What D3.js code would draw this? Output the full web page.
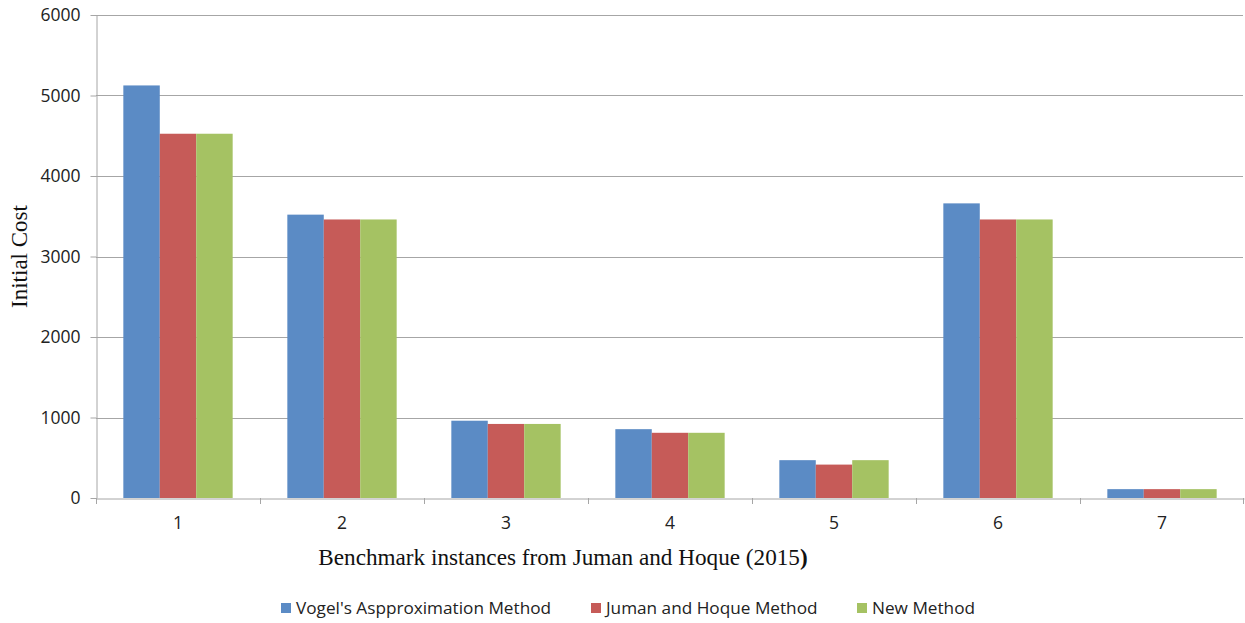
<!DOCTYPE html>
<html>
<head>
<meta charset="utf-8">
<script src="https://cdn.jsdelivr.net/npm/d3@7"></script>
<style>
  html, body { margin: 0; padding: 0; background: #fff; }
  svg { display: block; }
</style>
</head>
<body>
<svg id="chart" width="1245" height="623"></svg>
<script>
// Benchmark instances and initial costs per method
const categories = ["1", "2", "3", "4", "5", "6", "7"];
const seriesNames = ["Vogel's Aspproximation Method", "Juman and Hoque Method", "New Method"];
const vamCost = [5125, 3520, 960, 855, 470, 3660, 110];
const jhmCost = [4525, 3460, 920, 810, 415, 3460, 110];
const newCost = [4525, 3460, 920, 810, 470, 3460, 110];
const yTicks = [0, 1000, 2000, 3000, 4000, 5000, 6000];
const colors = ["#5B8BC5", "#C65B58", "#A5C263"];

const seriesValues = [vamCost, jhmCost, newCost];

const svg = d3.select("#chart");
const plotL = 96, plotR = 1244, plotT = 15, plotB = 498;
const gridColor = "#A6A6A6";
const labelFont = "'Open Sans', sans-serif";

const x = d3.scaleBand().domain(categories).range([plotL, plotR]).padding(0);
const xi = d3.scaleBand().domain(d3.range(seriesNames.length))
  .range([0, x.bandwidth()]).paddingInner(0).paddingOuter(0.75);
const y = d3.scaleLinear().domain([0, 6000]).range([plotB, plotT]);

// horizontal gridlines
svg.append("g")
  .selectAll("line")
  .data(yTicks.filter(d => d > 0))
  .join("line")
  .attr("x1", plotL).attr("x2", plotR - 1)
  .attr("y1", d => Math.round(y(d)) + 0.5)
  .attr("y2", d => Math.round(y(d)) + 0.5)
  .attr("stroke", gridColor).attr("stroke-width", 1);

// bars
const rows = categories.map((c, i) => ({ cat: c, vals: seriesValues.map(s => s[i]) }));
svg.append("g")
  .selectAll("g")
  .data(rows)
  .join("g")
  .attr("transform", d => `translate(${x(d.cat)},0)`)
  .selectAll("rect")
  .data(d => d.vals.map((v, k) => ({ k, v })))
  .join("rect")
  .attr("x", d => xi(d.k))
  .attr("width", xi.bandwidth())
  .attr("y", d => y(d.v))
  .attr("height", d => y(0) - y(d.v))
  .attr("fill", d => colors[d.k]);

// y axis
const yAxis = svg.append("g")
  .attr("transform", `translate(${plotL + 0.5},0)`)
  .call(d3.axisLeft(y).tickValues(yTicks).tickFormat(d3.format("d"))
    .tickSize(6).tickPadding(10).tickSizeOuter(0));
yAxis.select(".domain").attr("stroke", gridColor);
yAxis.selectAll(".tick line").attr("stroke", gridColor);
yAxis.selectAll(".tick text")
  .attr("fill", "#222")
  .style("font-family", labelFont)
  .style("font-size", "17.5px");

// x axis: baseline and category labels
const xAxis = svg.append("g")
  .attr("transform", `translate(0,${plotB + 0.5})`)
  .call(d3.axisBottom(x).tickSize(0).tickPadding(18).tickSizeOuter(0));
xAxis.select(".domain").attr("stroke", gridColor);
xAxis.selectAll(".tick text")
  .attr("fill", "#222")
  .style("font-family", labelFont)
  .style("font-size", "17.5px");

// category boundary tick marks
const bounds = categories.map(c => x(c)).concat([x(categories[categories.length - 1]) + x.bandwidth()]);
svg.append("g")
  .selectAll("line")
  .data(bounds)
  .join("line")
  .attr("x1", d => Math.min(Math.round(d), plotR - 1) + 0.5)
  .attr("x2", d => Math.min(Math.round(d), plotR - 1) + 0.5)
  .attr("y1", plotB).attr("y2", plotB + 6)
  .attr("stroke", gridColor);

// axis titles
svg.append("text")
  .attr("transform", `translate(27,${(plotT + plotB) / 2}) rotate(-90)`)
  .attr("text-anchor", "middle")
  .style("font-family", "'Liberation Serif', serif")
  .style("font-size", "23px")
  .attr("fill", "#111")
  .text("Initial Cost");

const xTitle = svg.append("text")
  .attr("x", 563).attr("y", 565)
  .attr("text-anchor", "middle")
  .style("font-family", "'Liberation Serif', serif")
  .style("font-size", "23.2px")
  .attr("fill", "#111");
xTitle.append("tspan").text("Benchmark instances from Juman and Hoque (2015");
xTitle.append("tspan").attr("font-weight", "bold").text(")");

// legend
const legend = svg.append("g");
const legendX = [281, 591, 857];
const item = legend.selectAll("g")
  .data(seriesNames)
  .join("g")
  .attr("transform", (d, i) => `translate(${legendX[i]},608)`);
item.append("rect")
  .attr("x", 0).attr("y", -5).attr("width", 10).attr("height", 10)
  .attr("fill", (d, i) => colors[i]);
item.append("text")
  .attr("x", 15).attr("y", 0).attr("dy", "0.35em")
  .style("font-family", labelFont)
  .style("font-size", "17.2px")
  .attr("fill", "#222")
  .text(d => d);
</script>
</body>
</html>
